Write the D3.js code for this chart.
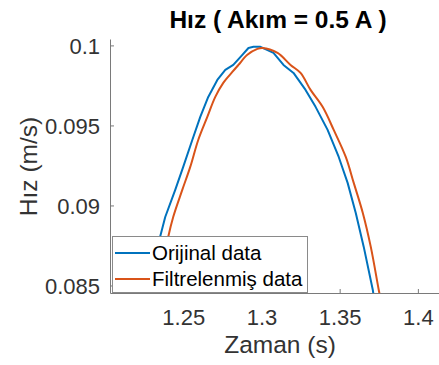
<!DOCTYPE html>
<html>
<head>
<meta charset="utf-8">
<script src="https://cdn.jsdelivr.net/npm/d3@7"></script>
<style>
  html, body { margin: 0; padding: 0; background: #fff; }
  svg { display: block; font-family: "Liberation Sans", Arial, sans-serif; }
</style>
</head>
<body>
<svg id="chart" width="439" height="365"></svg>
<script>
// ---- data ----
const titleText = "Hız ( Akım = 0.5 A )";
const xLabel = "Zaman (s)";
const yLabel = "Hız (m/s)";
const seriesNames = ["Orijinal data", "Filtrelenmiş data"];
const xTicks = [1.25, 1.3, 1.35, 1.4];
const yTicks = [0.085, 0.09, 0.095, 0.1];
const xDomain = [1.2032, 1.4135];
const yDomain = [0.08453, 0.1004];

const origT = [1.2282, 1.2352, 1.2385, 1.2449, 1.2500, 1.2558, 1.2609, 1.2660, 1.2718, 1.2769, 1.2820, 1.2878, 1.2917, 1.2949, 1.2994, 1.3077, 1.3141, 1.3205, 1.3282, 1.3346, 1.3423, 1.3494, 1.3551, 1.3603, 1.3654, 1.3712, 1.3721];
const origV = [0.08453, 0.08803, 0.08928, 0.09097, 0.09241, 0.09409, 0.09553, 0.09678, 0.09784, 0.09847, 0.09878, 0.09941, 0.09984, 0.09991, 0.09991, 0.09953, 0.09878, 0.09828, 0.09722, 0.09616, 0.09472, 0.09303, 0.09141, 0.08953, 0.08741, 0.08472, 0.08409];

const filtT = [1.2333, 1.2404, 1.2436, 1.2494, 1.2545, 1.2596, 1.2654, 1.2705, 1.2756, 1.2814, 1.2853, 1.2910, 1.2974, 1.3006, 1.3103, 1.3186, 1.3250, 1.3314, 1.3391, 1.3462, 1.3539, 1.3590, 1.3648, 1.3699, 1.3750, 1.3763];
const filtV = [0.08441, 0.08803, 0.08928, 0.09097, 0.09241, 0.09409, 0.09553, 0.09678, 0.09766, 0.09834, 0.09878, 0.09941, 0.09978, 0.09984, 0.09953, 0.09878, 0.09828, 0.09722, 0.09616, 0.09472, 0.09303, 0.09141, 0.08953, 0.08741, 0.08472, 0.08409];

const colors = ["#0072BD", "#D95319"];

// ---- layout ----
const svg = d3.select("#chart");
const L = 110, R = 439, T = 39, B = 293;

const x = d3.scaleLinear().domain(xDomain).range([L, R]);
const y = d3.scaleLinear().domain(yDomain).range([B, T]);

svg.append("defs").append("clipPath").attr("id", "clip")
  .append("rect").attr("x", L).attr("y", T).attr("width", R - L).attr("height", B - T);

const series = [
  origT.map((t, i) => [t, origV[i]]),
  filtT.map((t, i) => [t, filtV[i]])
];

const lineOrig = d3.line().x(d => x(d[0])).y(d => y(d[1])).curve(d3.curveLinear);
const lineFilt = d3.line().x(d => x(d[0])).y(d => y(d[1])).curve(d3.curveCatmullRom.alpha(0.5));

const plot = svg.append("g").attr("clip-path", "url(#clip)");
plot.append("path").datum(series[0]).attr("d", lineOrig)
  .attr("fill", "none").attr("stroke", colors[0]).attr("stroke-width", 2).attr("stroke-linejoin", "round");
plot.append("path").datum(series[1]).attr("d", lineFilt)
  .attr("fill", "none").attr("stroke", colors[1]).attr("stroke-width", 2).attr("stroke-linejoin", "round");

// ---- axes ----
const axisColor = "#7a7a7a";
const textColor = "#333333";

const xAxis = svg.append("g").attr("transform", `translate(0,${B})`)
  .call(d3.axisBottom(x).tickValues(xTicks).tickSizeInner(-4).tickSizeOuter(0).tickPadding(0).tickFormat(d => String(d)));
xAxis.select(".domain").attr("stroke", axisColor);
xAxis.selectAll(".tick line").attr("stroke", axisColor);
xAxis.selectAll(".tick text").attr("fill", textColor).attr("font-size", 22)
  .attr("font-family", "Liberation Sans, Arial, sans-serif")
  .attr("dy", null).attr("y", 32);

const yAxis = svg.append("g").attr("transform", `translate(${L},0)`)
  .call(d3.axisLeft(y).tickValues(yTicks).tickSizeInner(-4).tickSizeOuter(0).tickPadding(0).tickFormat(d => String(d)));
yAxis.select(".domain").attr("stroke", axisColor);
yAxis.selectAll(".tick line").attr("stroke", axisColor);
yAxis.selectAll(".tick text").attr("fill", textColor).attr("font-size", 22)
  .attr("font-family", "Liberation Sans, Arial, sans-serif")
  .attr("x", -10).attr("dy", "0.36em");

// ---- labels ----
svg.append("text").attr("x", 278).attr("y", 28).attr("text-anchor", "middle")
  .attr("font-size", 24.5).attr("font-weight", "bold").attr("fill", "#000").text(titleText);

svg.append("text").attr("x", 280).attr("y", 353).attr("text-anchor", "middle")
  .attr("font-size", 24.5).attr("fill", textColor).text(xLabel);

svg.append("text").attr("transform", "translate(37,166.5) rotate(-90)").attr("text-anchor", "middle")
  .attr("font-size", 24.5).attr("fill", textColor).text(yLabel);

// ---- legend ----
const lg = svg.append("g");
lg.append("rect").attr("x", 112.5).attr("y", 236.5).attr("width", 195).attr("height", 56)
  .attr("fill", "#fff").attr("stroke", "#8a8a8a").attr("stroke-width", 1);
const rowsY = [253, 279];
seriesNames.forEach((name, i) => {
  lg.append("line").attr("x1", 115).attr("x2", 150).attr("y1", rowsY[i]).attr("y2", rowsY[i])
    .attr("stroke", colors[i]).attr("stroke-width", 2);
  lg.append("text").attr("x", 152).attr("y", rowsY[i]).attr("dy", "0.36em")
    .attr("font-size", 20.5).attr("fill", "#000").text(name);
});
</script>
</body>
</html>
